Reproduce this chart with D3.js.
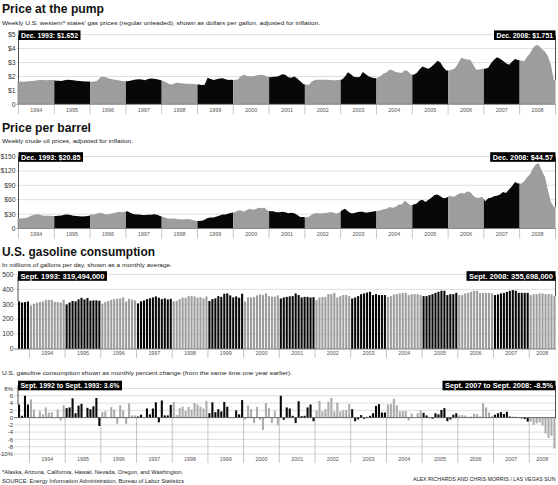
<!DOCTYPE html>
<html>
<head>
<meta charset="utf-8">
<script src="https://cdn.jsdelivr.net/npm/d3@7"></script>
<style>
body { margin: 0; background: #fff; }
svg { display: block; font-family: "Liberation Sans", Arial, sans-serif; }
</style>
</head>
<body>
<svg id="chart" width="558" height="485"></svg>
<script>
'use strict';

var years = d3.range(1994, 2009);

// western states' gas price, $ per gallon (inflation adjusted), monthly Jan 1994 .. Dec 2008
var gasStart = 1.652; // Dec. 1993
var gasPrice = [
    1.63,1.62,1.63,1.65,1.67,1.70,1.72,1.75,1.74,1.73,1.74,1.74,
    1.70,1.69,1.68,1.72,1.76,1.75,1.72,1.70,1.68,1.66,1.64,1.63,
    1.62,1.63,1.70,1.95,1.98,1.92,1.86,1.80,1.77,1.72,1.68,1.65,
    1.66,1.70,1.74,1.78,1.80,1.78,1.72,1.82,1.86,1.84,1.80,1.74,
    1.68,1.58,1.45,1.42,1.52,1.55,1.52,1.50,1.48,1.47,1.46,1.44,
    1.42,1.38,1.40,1.90,1.82,1.75,1.80,1.86,1.88,1.80,1.75,1.76,
    1.74,1.78,2.00,2.12,2.05,2.02,2.00,2.05,2.10,2.12,2.08,1.98,
    1.95,1.98,1.98,2.05,2.15,2.12,1.95,1.90,2.00,1.85,1.65,1.45,
    1.40,1.42,1.65,1.75,1.76,1.76,1.77,1.76,1.75,1.73,1.72,1.74,
    1.78,2.00,2.30,2.15,1.98,1.95,1.96,2.32,2.15,2.00,1.93,1.88,
    1.90,2.05,2.22,2.30,2.50,2.45,2.32,2.28,2.25,2.45,2.40,2.15,
    2.12,2.25,2.50,2.72,2.62,2.55,2.70,2.90,3.12,3.00,2.65,2.42,
    2.45,2.50,2.60,2.95,3.35,3.28,3.22,3.20,2.85,2.48,2.50,2.55,
    2.55,2.62,2.95,3.20,3.38,3.28,3.12,2.95,2.85,3.05,3.25,3.18,
    3.15,3.10,3.40,3.65,4.05,4.25,4.22,3.95,3.80,3.45,2.85,1.751
];

// crude oil, $ per barrel (inflation adjusted), monthly Jan 1994 .. Dec 2008
var oilStart = 20.85; // Dec. 1993
var oilPrice = [
    21,21.5,22,24,27,28.5,29.5,28,26.5,26.5,26.5,26,
    26,26.5,27,28.5,29,28,26.5,26,25.5,25,25.5,26,
    29,29,31,33,31,29,30,31,33,35,34,35,
    36,33,30,29,29,28,28,28.5,28.5,29.5,28.5,26,
    24,22,20.5,21,21,19.5,19.5,19,20,19.5,17.5,15.5,
    15.5,16,18,22,23,23,25,27,29,29,31,33,
    34,37,38,35,38,41,39,40,43,42,43,37,
    36,36,34,34,35,34,32,33,32,28,24,24,
    23,25,29,32,32,31,32,33,34,34,31,33,
    38,41,36,32,32,34,35,35,33,34,35,36,
    37,38,40,41,45,43,45,50,50,58,53,48,
    50,52,58,60,55,60,64,70,71,67,63,64,
    68,66,67,72,74,73,77,76,68,64,64,66,
    57,63,64,67,68,71,76,74,81,88,97,94,
    93,98,106,113,125,134,136,120,108,80,55,44.57
];

// gasoline consumption, millions of gallons per day, Sept 1993 .. Sept 2008
var consumption = [
    319.5,312,315,319,
    292,303,310,315,319,330,330,330,317,315,313,330,
    299,312,322,320,333,344,333,342,324,326,326,324,
    304,315,322,330,335,337,340,346,319,337,331,326,
    306,320,326,335,340,346,353,344,335,340,333,337,
    319,324,335,344,344,355,357,353,344,348,340,353,
    322,335,340,355,350,371,373,360,346,353,344,371,
    319,346,346,348,360,366,362,373,355,351,351,360,
    339,346,350,353,355,373,362,346,350,350,346,348,
    328,346,350,350,368,368,377,346,355,362,362,355,
    339,346,355,368,373,379,384,362,368,362,362,362,
    350,355,366,368,373,377,377,362,368,368,368,362,
    355,355,362,368,377,384,391,391,362,368,368,377,
    362,362,373,377,384,391,391,377,377,377,377,373,
    362,366,373,377,384,391,395,391,377,377,377,377,
    362,368,368,373,373,368,368,368,355.7
];

// percent change from same month a year earlier, Sept 1993 .. Sept 2008
var pctChange = [
    3.6,0.5,6.0,3.6,
    5.0,2.2,0,1.7,0.9,2.8,1.4,1.5,0,2.2,-0.8,3.4,
    2.6,2.8,5.3,1.2,3.3,3.8,0,2.7,2.3,3.1,5.4,-2.3,
    1.5,1.7,0,2.9,2.2,-1.7,3.4,2.0,-1.7,3.9,0.6,0.6,
    0.3,0.8,0,2.5,0.9,2.5,4.2,-1.3,4.7,0.6,0.6,3.5,
    4.3,0.7,2.6,3.0,1.8,2.9,2.2,4.0,3.6,3.0,2.5,4.6,
    1.2,4.2,1.5,2.3,1.7,4.3,3.0,0,0,2.0,0.9,4.8,
    -0.5,3.3,2.3,-1.5,2.9,-0.6,-3.4,4.0,2.6,-1.5,1.8,-2.1,
    6.0,-0.6,2.8,2.5,0.5,-1.5,4.5,0.4,0.5,2.8,3.6,-1.0,
    1.9,4.6,1.7,2.3,4.4,5.4,1.7,4.1,1.7,2.0,2.1,3.7,
    2.3,-1.0,-0.5,0.7,-0.3,0.2,0.5,1.2,3.2,3.7,1.4,1.4,
    3.6,3.8,5.2,3.4,1.7,1.8,1.8,-0.8,1.1,0,1.2,2.0,
    1.3,0.6,0.1,-0.3,1.2,0.9,2.1,2.6,-1.0,-0.5,0.8,1.2,
    0.6,0.7,0.6,0.2,0.3,1.1,0.9,0.3,3.9,2.8,1.4,0.5,
    0.8,1.2,1.5,1.0,1.6,0.3,0.2,0.2,0.1,-0.2,-0.4,-1.1,
    -1.1,-2.0,-1.6,-1.3,-2.2,-4.4,-5.6,-5.0,-8.5
];

var gasTicks = [0, 1, 2, 3, 4, 5],
    gasTickLabels = ['0', '$1', '$2', '$3', '$4', '$5'];
var oilTicks = [0, 30, 60, 90, 120, 150],
    oilTickLabels = ['0', '$30', '$60', '$90', '$120', '$150'];
var useTicks = [0, 100, 200, 300, 400, 500],
    useTickLabels = ['0', '100', '200', '300', '400', '500'];
var pctTicks = [8, 6, 4, 2, 0, -2, -4, -6, -8, -10],
    pctTickLabels = ['8%', '6', '4', '2', '0', '-2', '-4', '-6', '-8', '-10%'];

var BLACK = '#080808', GRAY = '#9d9d9d', LIGHT = '#acacac', GRID = '#d6d6d6';
var svg = d3.select('#chart');

function isDark(yr) { return yr % 2 === 1; }

function txt(t, x, y, size, o) {
    o = o || {};
    var el = svg.append('text')
        .attr('x', x).attr('y', y)
        .attr('font-size', size)
        .attr('fill', o.fill || '#111')
        .attr('font-weight', o.bold ? 'bold' : 'normal')
        .attr('text-anchor', o.anchor || 'start')
        .text(t);
    if (o.len) el.attr('textLength', o.len).attr('lengthAdjust', 'spacingAndGlyphs');
    return el;
}

// black label box; side 'left' starts at anchor x, 'right' ends there
function callout(ax, side, yMid, w, text, yData) {
    var h = 9.6, x0 = side === 'left' ? ax : ax - w;
    if (yData !== undefined) {
        svg.append('line').attr('x1', ax).attr('x2', ax)
            .attr('y1', yMid).attr('y2', yData)
            .attr('stroke', '#222').attr('stroke-width', 0.8);
    }
    svg.append('rect').attr('x', x0).attr('y', yMid - h/2)
        .attr('width', w).attr('height', h).attr('fill', '#000');
    txt(text, x0 + 2.5, yMid + 2.7, 7.6, {fill: '#fff', bold: true, len: w - 5});
}

// ---- titles and notes
txt('Price at the pump', 2, 12.8, 13.5, {bold: true, len: 102});
txt('Weekly U.S. western* states\u2019 gas prices (regular unleaded), shown as dollars per gallon, adjusted for inflation.', 2, 24.5, 6, {fill: '#222', len: 318});
txt('Price per barrel', 2, 131.7, 13.5, {bold: true, len: 89});
txt('Weekly crude oil prices, adjusted for inflation.', 2, 142.5, 6, {fill: '#222', len: 131});
txt('U.S. gasoline consumption', 2, 255.7, 13.5, {bold: true, len: 153});
txt('In millions of gallons per day, shown as a monthly average.', 2, 266.5, 6, {fill: '#222', len: 170});
txt('U.S. gasoline consumption shown as monthly percent change (from the same time one year earlier).', 2, 374.5, 6, {fill: '#222', len: 290});
txt('*Alaska, Arizona, California, Hawaii, Nevada, Oregon, and Washington.', 2, 473.8, 5.8, {fill: '#222', len: 181});
txt('SOURCE: Energy Information Administration, Bureau of Labor Statistics', 2, 482.6, 5.8, {fill: '#222', len: 182});
txt('ALEX RICHARDS AND CHRIS MORRIS / LAS VEGAS SUN', 555.5, 481.2, 5.3, {fill: '#222', anchor: 'end'});

// ---- weekly price area charts
var xTime = d3.scaleTime()
    .domain([new Date(1994, 0, 1), new Date(2009, 0, 1)])
    .range([18.5, 555.5]);

function priceChart(cfg) {
    var y = d3.scaleLinear().domain([0, cfg.ticks[cfg.ticks.length-1]]).range([cfg.bottom, cfg.top]);
    var g = svg.append('g');

    g.selectAll('line.grid').data(cfg.ticks.slice(1)).enter().append('line')
        .attr('x1', 16.5).attr('x2', 556)
        .attr('y1', function(d){return y(d);}).attr('y2', function(d){return y(d);})
        .attr('stroke', GRID).attr('stroke-width', 0.8);

    g.selectAll('text.tick').data(cfg.ticks).enter().append('text')
        .attr('x', 15.5).attr('y', function(d){return y(d) + 2.4;})
        .attr('text-anchor', 'end').attr('font-size', 6.8).attr('fill', '#333')
        .text(function(d, i){return cfg.labels[i];});

    var area = d3.area()
        .x(function(d){return xTime(d.date);})
        .y0(y(0))
        .y1(function(d){return y(d.v);});

    // Dec. 1993 sliver
    g.append('path')
        .datum([{date: new Date(1993, 11, 25), v: cfg.start}, {date: new Date(1994, 0, 1), v: cfg.start}])
        .attr('d', area).attr('fill', BLACK);

    years.forEach(function(yr, k) {
        var vals = cfg.values.slice(k*12, k*12 + 12),
            prev = k === 0 ? cfg.start : cfg.values[k*12 - 1],
            next = k === years.length - 1 ? vals[11] : cfg.values[k*12 + 12],
            pts = [{date: new Date(yr, 0, 1), v: (prev + vals[0]) / 2}];
        vals.forEach(function(v, m) { pts.push({date: new Date(yr, m, 15), v: v}); });
        pts.push({date: new Date(yr + 1, 0, 1), v: (vals[11] + next) / 2});
        g.append('path').datum(pts).attr('d', area).attr('fill', isDark(yr) ? BLACK : GRAY);
    });

    g.append('line').attr('x1', 16.5).attr('x2', 556)
        .attr('y1', y(0)).attr('y2', y(0))
        .attr('stroke', '#777').attr('stroke-width', 0.8);

    g.selectAll('line.div').data(d3.range(1994, 2010)).enter().append('line')
        .attr('x1', function(d){return xTime(new Date(d, 0, 1));})
        .attr('x2', function(d){return xTime(new Date(d, 0, 1));})
        .attr('y1', y(0)).attr('y2', y(0) + 10)
        .attr('stroke', '#a0a0a0').attr('stroke-width', 0.6);

    g.selectAll('text.year').data(years).enter().append('text')
        .attr('x', function(d){return xTime(new Date(d, 6, 2));})
        .attr('y', y(0) + 7.2)
        .attr('text-anchor', 'middle').attr('font-size', 5.4).attr('fill', '#555')
        .text(function(d){return d;});

    var top = y(cfg.ticks[cfg.ticks.length-1]);
    callout(xTime.range()[0], 'left', top + 0.5, cfg.leftW, cfg.leftText, y(cfg.start));
    callout(xTime.range()[1], 'right', top + 0.5, cfg.rightW, cfg.rightText, y(cfg.values[cfg.values.length-1]));
}

priceChart({
    values: gasPrice, start: gasStart, ticks: gasTicks, labels: gasTickLabels,
    bottom: 104.3, top: 34.7,
    leftW: 62, leftText: 'Dec. 1993: $1.652',
    rightW: 61.5, rightText: 'Dec. 2008: $1.751'
});

priceChart({
    values: oilPrice, start: oilStart, ticks: oilTicks, labels: oilTickLabels,
    bottom: 228.5, top: 156.5,
    leftW: 64.5, leftText: 'Dec. 1993: $20.85',
    rightW: 65.3, rightText: 'Dec. 2008: $44.57'
});

// ---- monthly bar charts
var xBand = d3.scaleBand()
    .domain(d3.range(consumption.length))
    .range([18, 555.5])
    .paddingInner(0.3);

function monthYear(i) { return 1993 + Math.floor((i + 8) / 12); }
function yearStart(yr) { return xBand((yr - 1994) * 12 + 4) - xBand.step() * 0.15; }
function yearEnd(yr) { return yr === 2008 ? xBand.range()[1] : yearStart(yr + 1); }

function barChart(cfg) {
    var y = d3.scaleLinear().domain(cfg.domain).range(cfg.range);
    var g = svg.append('g');

    g.selectAll('line.grid').data(cfg.ticks).enter().append('line')
        .attr('x1', cfg.gridX).attr('x2', 556)
        .attr('y1', function(d){return y(d);}).attr('y2', function(d){return y(d);})
        .attr('stroke', GRID).attr('stroke-width', 0.8);

    g.selectAll('text.tick').data(cfg.ticks).enter().append('text')
        .attr('x', cfg.gridX - 1).attr('y', function(d){return y(d) + 2.2;})
        .attr('text-anchor', 'end').attr('font-size', cfg.tickSize).attr('fill', '#333')
        .text(function(d, i){return cfg.labels[i];});

    g.selectAll('line.div').data(years).enter().append('line')
        .attr('x1', yearStart).attr('x2', yearStart)
        .attr('y1', y(0)).attr('y2', cfg.divBottom)
        .attr('stroke', '#a0a0a0').attr('stroke-width', 0.6);

    g.selectAll('rect.bar').data(cfg.values).enter().append('rect')
        .attr('x', function(d, i){return xBand(i);})
        .attr('width', xBand.bandwidth())
        .attr('y', function(d){return y(Math.max(0, d));})
        .attr('height', function(d){return Math.abs(y(d) - y(0));})
        .attr('fill', function(d, i){return isDark(monthYear(i)) ? BLACK : cfg.gray;});

    g.append('line').attr('x1', cfg.gridX).attr('x2', 556)
        .attr('y1', y(0)).attr('y2', y(0))
        .attr('stroke', cfg.zeroColor).attr('stroke-width', 0.8);

    g.selectAll('text.year').data(years).enter().append('text')
        .attr('x', function(d){return (yearStart(d) + yearEnd(d)) / 2;})
        .attr('y', cfg.yearY)
        .attr('text-anchor', 'middle').attr('font-size', 5.4).attr('fill', '#555')
        .text(function(d){return d;});

    var n = cfg.values.length, top = y(cfg.domain[1]);
    callout(xBand(0), 'left', top + cfg.boxDy, cfg.leftW, cfg.leftText, y(cfg.values[0]));
    callout(xBand(n - 1) + xBand.bandwidth(), 'right', top + cfg.boxDy, cfg.rightW, cfg.rightText, y(Math.max(0, cfg.values[n - 1])));
}

barChart({
    values: consumption, domain: [0, 500], range: [349, 274.5],
    ticks: useTicks, labels: useTickLabels, gridX: 14.5, tickSize: 6.8,
    divBottom: 358, yearY: 355, gray: GRAY, zeroColor: '#777', boxDy: 1.5,
    leftW: 89, leftText: 'Sept. 1993: 319,494,000',
    rightW: 89, rightText: 'Sept. 2008: 355,698,000'
});

barChart({
    values: pctChange, domain: [-10, 8], range: [454, 388.5],
    ticks: pctTicks, labels: pctTickLabels, gridX: 14, tickSize: 6,
    divBottom: 463, yearY: 460.5, gray: LIGHT, zeroColor: '#555', boxDy: -3,
    leftW: 104, leftText: 'Sept. 1992 to Sept. 1993: 3.6%',
    rightW: 113, rightText: 'Sept. 2007 to Sept. 2008: -8.5%'
});
</script>
</body>
</html>
